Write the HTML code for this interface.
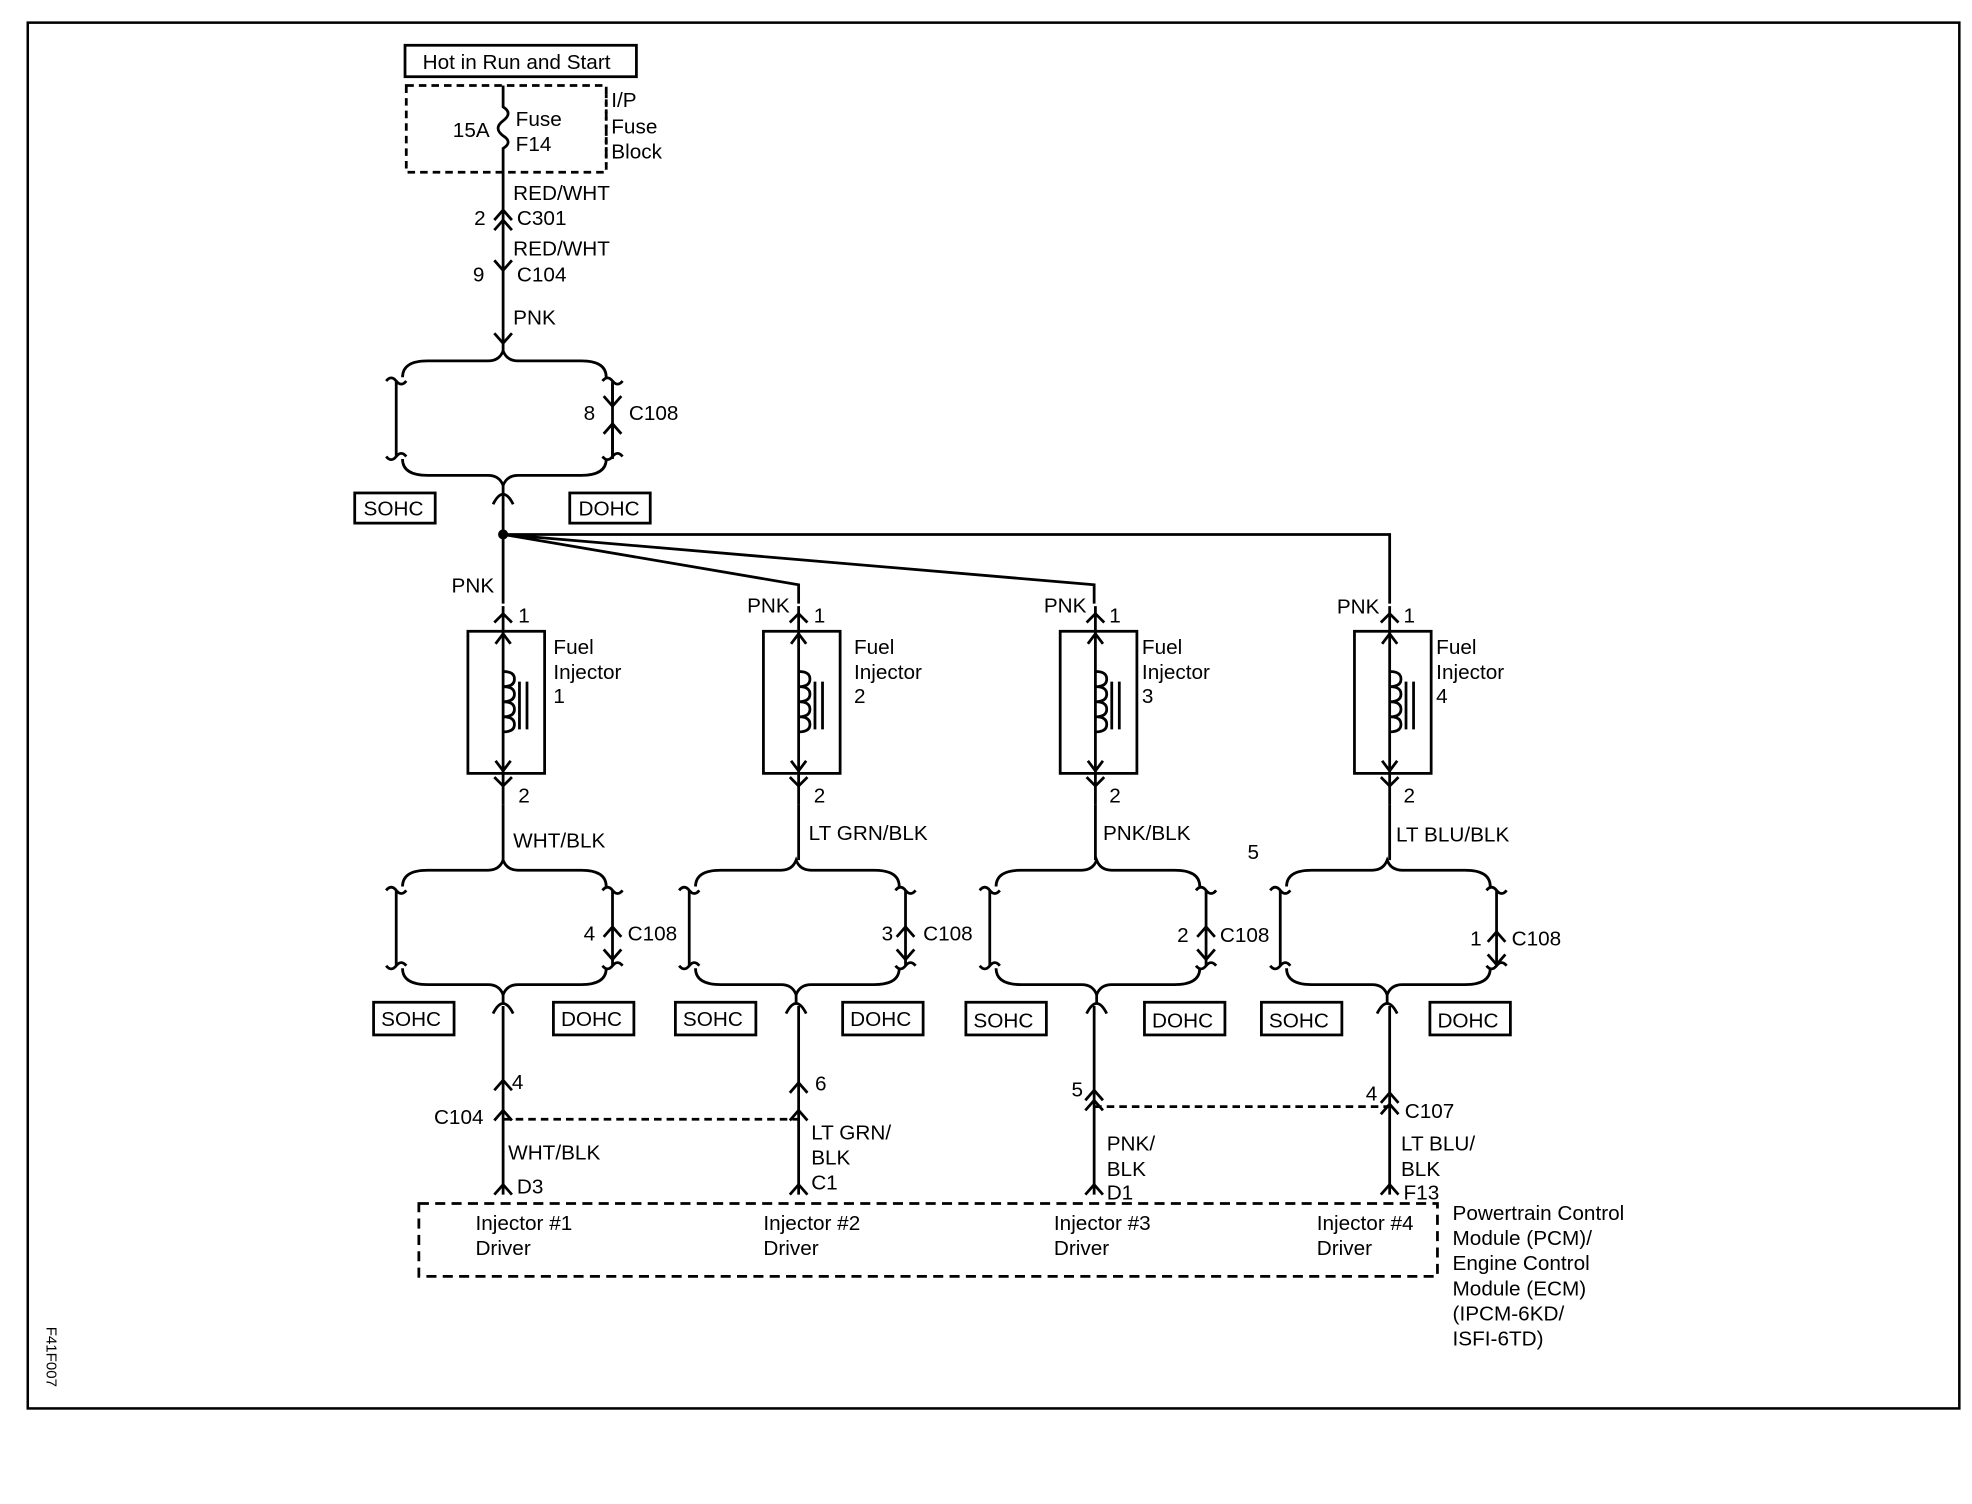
<!DOCTYPE html>
<html><head><meta charset="utf-8"><style>
html,body{margin:0;padding:0;background:#fff;}
svg{display:block;}
text{font-family:"Liberation Sans",sans-serif;font-size:16.5px;fill:#000;}
</style></head><body>
<svg width="1972" height="1504" viewBox="0 0 1568 1196" xmlns="http://www.w3.org/2000/svg">
<defs>
<g id="grp" fill="none" stroke="#000" stroke-width="2.2">
  <path d="M-80,15 Q-80,2 -60,2 H-12 Q-3,2 0,-6 Q3,2 12,2 H62 Q82,2 82,15"/>
  <path d="M-80,80 Q-80,93 -60,93 H-12 Q-3,93 0,101 Q3,93 12,93 H62 Q82,93 82,80"/>
  <path d="M-85,18 V78 M-93,18 Q-89,13 -85,18 Q-81,23 -77,18 M-93,78 Q-89,83 -85,78 Q-81,73 -77,78"/>
  <path d="M87,18 V78 M79,18 Q83,13 87,18 Q91,23 95,18 M79,78 Q83,83 87,78 Q91,73 95,78"/>
  <path d="M0,101 V108 M-8,116 Q-4,108 0,108 Q4,108 8,116"/>
</g>
<g id="inj" fill="none" stroke="#000" stroke-width="2.2">
  <rect x="-28" y="0" width="61" height="113"/>
  <path d="M0,-20 V138"/>
  <path d="M-6,10 L0,2 L6,10 M-6,103 L0,111 L6,103"/>
  <path d="M0,32 Q9,32 9,38 Q9,44 0,44 Q9,44 9,50 Q9,56 0,56 Q9,56 9,62 Q9,68 0,68 Q9,68 9,74 Q9,80 0,80"/>
  <path d="M13,40 V78 M19,40 V78"/>
  <path d="M-7,-7 L0,-14 L7,-7"/>
  <path d="M-7,116 L0,123 L7,116"/>
</g>
<g id="cu" fill="none" stroke="#000" stroke-width="2.2"><path d="M-7,5 L0,-3 L7,5"/></g>
<g id="ad" fill="none" stroke="#000" stroke-width="2.2"><path d="M-7,-5 L0,3 L7,-5"/></g>
</defs>
<rect x="22" y="18" width="1536" height="1102" fill="none" stroke="#000" stroke-width="2"/>
<g fill="none" stroke="#000" stroke-width="2.2">
<rect x="322" y="36" width="184" height="25"/>
<rect x="323" y="68" width="159" height="69" stroke-dasharray="6,4"/>
<path d="M400,68 V85 Q408,90 400,96 Q392,102 400,108 Q408,113 400,118 V280"/>
<path d="M482,75 V130" stroke-dasharray="3,3"/>
</g>
<use href="#cu" x="400" y="170"/><use href="#ad" x="400" y="212"/>
<use href="#cu" x="400" y="178"/><use href="#ad" x="400" y="270"/>
<text x="336" y="55">Hot in Run and Start</text>
<text x="360" y="109">15A</text><text x="410" y="100">Fuse</text><text x="410" y="120">F14</text>
<text x="486" y="85">I/P</text><text x="486" y="106">Fuse</text><text x="486" y="126">Block</text>
<text x="408" y="159">RED/WHT</text><text x="377" y="179">2</text><text x="411" y="179">C301</text>
<text x="408" y="203">RED/WHT</text><text x="376" y="224">9</text><text x="411" y="224">C104</text>
<text x="408" y="258">PNK</text>
<use href="#grp" x="400" y="285"/>
<g fill="none" stroke="#000" stroke-width="2.2">
<path d="M487,305 V320 M487,340 V365"/>
</g>
<use href="#ad" x="487" y="320"/><use href="#cu" x="487" y="340"/>
<text x="464" y="334">8</text><text x="500" y="334">C108</text>
<g fill="none" stroke="#000" stroke-width="2.2">
<rect x="282" y="392" width="64" height="24"/><rect x="453" y="392" width="64" height="24"/>
<path d="M400,393 V425 M400,425 L635,465 V480 M400,425 L870,465 V480 M400,425 H1105 V480 M400,425 V480"/>
</g>
<circle cx="400" cy="425" r="4"/>
<text x="289" y="410">SOHC</text><text x="460" y="410">DOHC</text>
<text x="359" y="471">PNK</text><text x="594" y="487">PNK</text><text x="830" y="487">PNK</text><text x="1063" y="488">PNK</text>
<use href="#inj" x="400" y="502"/><use href="#inj" x="635" y="502"/><use href="#inj" x="871" y="502"/><use href="#inj" x="1105" y="502"/>
<text x="412" y="495">1</text><text x="647" y="495">1</text><text x="882" y="495">1</text><text x="1116" y="495">1</text>
<text x="440" y="520">Fuel</text><text x="440" y="540">Injector</text><text x="440" y="559">1</text>
<text x="679" y="520">Fuel</text><text x="679" y="540">Injector</text><text x="679" y="559">2</text>
<text x="908" y="520">Fuel</text><text x="908" y="540">Injector</text><text x="908" y="559">3</text>
<text x="1142" y="520">Fuel</text><text x="1142" y="540">Injector</text><text x="1142" y="559">4</text>
<text x="412" y="638">2</text><text x="647" y="638">2</text><text x="882" y="638">2</text><text x="1116" y="638">2</text>
<text x="408" y="674">WHT/BLK</text><text x="643" y="668">LT GRN/BLK</text><text x="877" y="668">PNK/BLK</text><text x="1110" y="669">LT BLU/BLK</text>
<text x="992" y="683">5</text>
<g fill="none" stroke="#000" stroke-width="2.2">
<path d="M400,640 V684 M635,640 V684 M871,640 V684 M1105,640 V684"/>
</g>
<use href="#grp" x="400" y="690"/><use href="#grp" x="633" y="690"/><use href="#grp" x="872" y="690"/><use href="#grp" x="1103" y="690"/>
<use href="#cu" x="487" y="740"/><use href="#ad" x="487" y="760"/>
<use href="#cu" x="720" y="740"/><use href="#ad" x="720" y="760"/>
<use href="#cu" x="959" y="740"/><use href="#ad" x="959" y="760"/>
<use href="#cu" x="1190" y="744"/><use href="#ad" x="1190" y="764"/>
<text x="464" y="748">4</text><text x="499" y="748">C108</text>
<text x="701" y="748">3</text><text x="734" y="748">C108</text>
<text x="936" y="749">2</text><text x="970" y="749">C108</text>
<text x="1169" y="752">1</text><text x="1202" y="752">C108</text>
<g fill="none" stroke="#000" stroke-width="2.2">
<rect x="297" y="797" width="64" height="26"/><rect x="440" y="797" width="64" height="26"/>
<rect x="537" y="797" width="64" height="26"/><rect x="670" y="797" width="64" height="26"/>
<rect x="768" y="797" width="64" height="26"/><rect x="910" y="797" width="64" height="26"/>
<rect x="1003" y="797" width="64" height="26"/><rect x="1137" y="797" width="64" height="26"/>
<path d="M400,800 V950 M635,800 V950 M870,800 V950 M1105,800 V950"/>
<path d="M400,890 H635 M870,880 H1105" stroke-dasharray="6,4"/>
<rect x="333" y="957" width="810" height="58" stroke-dasharray="8,5"/>
</g>
<text x="303" y="816">SOHC</text><text x="446" y="816">DOHC</text>
<text x="543" y="816">SOHC</text><text x="676" y="816">DOHC</text>
<text x="774" y="817">SOHC</text><text x="916" y="817">DOHC</text>
<text x="1009" y="817">SOHC</text><text x="1143" y="817">DOHC</text>
<use href="#cu" x="400" y="862"/><use href="#cu" x="400" y="886"/><use href="#cu" x="400" y="945"/>
<use href="#cu" x="635" y="864"/><use href="#cu" x="635" y="886"/><use href="#cu" x="635" y="945"/>
<use href="#cu" x="870" y="870"/><use href="#cu" x="870" y="878"/><use href="#cu" x="870" y="945"/>
<use href="#cu" x="1105" y="872"/><use href="#cu" x="1105" y="881"/><use href="#cu" x="1105" y="945"/>
<text x="407" y="866">4</text><text x="648" y="867">6</text><text x="852" y="872">5</text><text x="1086" y="875">4</text>
<text x="345" y="894">C104</text><text x="1117" y="889">C107</text>
<text x="404" y="922">WHT/BLK</text><text x="411" y="949">D3</text>
<text x="645" y="906">LT GRN/</text><text x="645" y="926">BLK</text><text x="645" y="946">C1</text>
<text x="880" y="915">PNK/</text><text x="880" y="935">BLK</text><text x="880" y="954">D1</text>
<text x="1114" y="915">LT BLU/</text><text x="1114" y="935">BLK</text><text x="1116" y="954">F13</text>
<text x="378" y="978">Injector #1</text><text x="378" y="998">Driver</text>
<text x="607" y="978">Injector #2</text><text x="607" y="998">Driver</text>
<text x="838" y="978">Injector #3</text><text x="838" y="998">Driver</text>
<text x="1047" y="978">Injector #4</text><text x="1047" y="998">Driver</text>
<text x="1155" y="970">Powertrain Control</text><text x="1155" y="990">Module (PCM)/</text>
<text x="1155" y="1010">Engine Control</text><text x="1155" y="1030">Module (ECM)</text>
<text x="1155" y="1050">(IPCM-6KD/</text><text x="1155" y="1070">ISFI-6TD)</text>
<text x="0" y="0" transform="translate(37,1055) rotate(90)" style="font-size:12px">F41F007</text>
</svg>
</body></html>
